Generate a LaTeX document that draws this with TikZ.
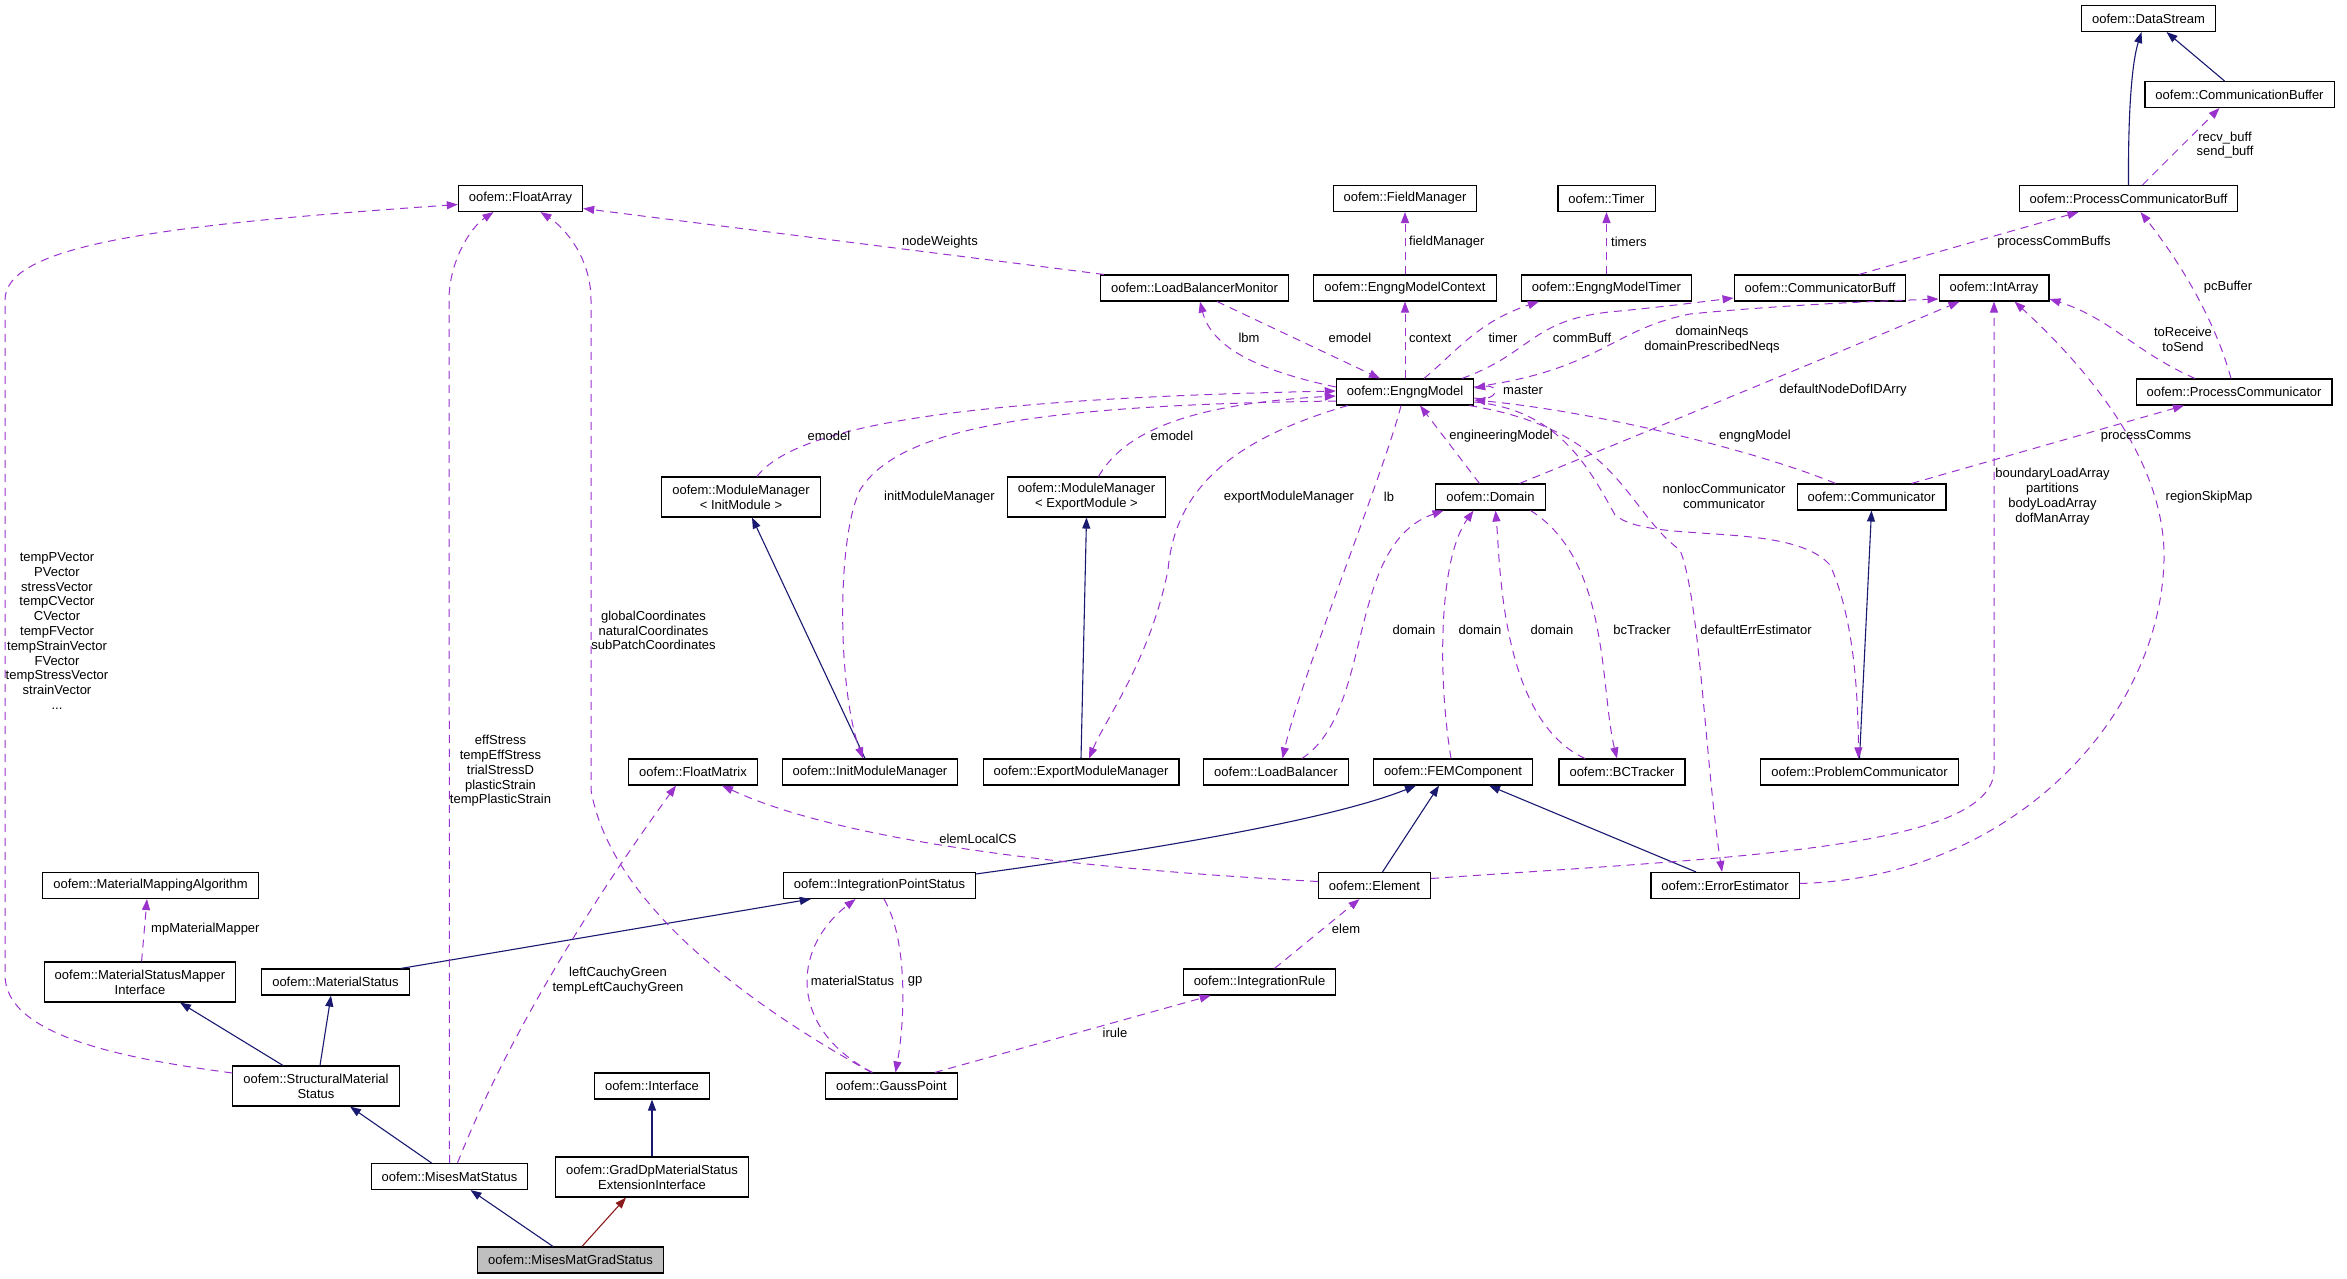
\documentclass[tikz,border=0pt]{standalone}
\usepackage{fontspec}
\setmainfont{Liberation Sans}
\usetikzlibrary{arrows.meta,calc}
\definecolor{usecol}{HTML}{9A32CD}
\definecolor{inhcol}{HTML}{191970}
\definecolor{tplcol}{HTML}{8B1A1A}
\definecolor{focuscol}{HTML}{BFBFBF}

\begin{document}
\begin{tikzpicture}[
    x=1pt, y=-1pt,
    cls/.style={
        rectangle, draw=black, line width=1.1pt, fill=white,
        inner xsep=10.5pt, inner ysep=5pt, minimum height=26pt,
        align=center, font=\fontsize{13}{14.8}\selectfont
    },
    twoline/.style={minimum height=40pt},
    focus/.style={cls, fill=focuscol},
    lbl/.style={inner sep=0pt, align=center, font=\fontsize{13}{14.8}\selectfont},
    use/.style={draw=usecol, line width=1pt, dash pattern=on 8pt off 6pt,
        -{Triangle[length=11pt,width=8pt]}},
    inh/.style={draw=inhcol, line width=1.1pt, -{Triangle[length=11pt,width=8pt]}},
    tpl/.style={draw=tplcol, line width=1.1pt, -{Triangle[length=11pt,width=8pt]}},
]
\useasboundingbox (0,0) rectangle (2347,1279);

% ── Classes ──────────────────────────────────────────────────
\node[cls] (floatArr)   at (520.5,198.5) {oofem::FloatArray};
\node[cls] (lbMon)      at (1194.5,288)  {oofem::LoadBalancerMonitor};
\node[cls] (fieldMgr)   at (1405,198.5)  {oofem::FieldManager};
\node[cls] (timerCls)   at (1606.5,198.5) {oofem::Timer};
\node[cls] (emCtx)      at (1405,288)    {oofem::EngngModelContext};
\node[cls] (emTimer)    at (1606.5,288)  {oofem::EngngModelTimer};
\node[cls] (commBuff)   at (1820,288)    {oofem::CommunicatorBuff};
\node[cls] (engng)      at (1405,392)    {oofem::EngngModel};
\node[cls] (dataStr)    at (2148.5,18.5) {oofem::DataStream};
\node[cls] (commBuffer) at (2239.5,94.5) {oofem::CommunicationBuffer};
\node[cls] (pcBuff)     at (2128.5,198.5) {oofem::ProcessCommunicatorBuff};
\node[cls] (intArr)     at (1994,288)    {oofem::IntArray};
\node[cls] (procComm)   at (2234,392)    {oofem::ProcessCommunicator};
\node[cls, twoline] (mmInit)   at (741,497)    {oofem::ModuleManager\\< InitModule >};
\node[cls, twoline] (mmExport) at (1086.5,497) {oofem::ModuleManager\\< ExportModule >};
\node[cls] (floatMat)   at (693,772)     {oofem::FloatMatrix};
\node[cls] (initMM)     at (870,772)     {oofem::InitModuleManager};
\node[cls] (exportMM)   at (1081,772)    {oofem::ExportModuleManager};
\node[cls] (domain)     at (1490.5,497)  {oofem::Domain};
\node[cls] (loadBal)    at (1276,772)    {oofem::LoadBalancer};
\node[cls] (femComp)    at (1453,772)    {oofem::FEMComponent};
\node[cls] (bcTrack)    at (1622,772)    {oofem::BCTracker};
\node[cls] (communic)   at (1871.5,497)  {oofem::Communicator};
\node[cls] (probComm)   at (1859.5,772)  {oofem::ProblemCommunicator};
\node[cls] (matMap)     at (150.5,885.5) {oofem::MaterialMappingAlgorithm};
\node[cls, twoline] (msmIface) at (140,982) {oofem::MaterialStatusMapper\\Interface};
\node[cls] (matStat)    at (335.5,982)   {oofem::MaterialStatus};
\node[cls, twoline] (structMS) at (316,1086) {oofem::StructuralMaterial\\Status};
\node[cls] (misesMS)    at (449.5,1176.5) {oofem::MisesMatStatus};
\node[focus] (misesGrad) at (570.5,1260) {oofem::MisesMatGradStatus};
\node[cls] (ipStat)     at (879.5,885.5) {oofem::IntegrationPointStatus};
\node[cls] (iface)      at (652,1086)    {oofem::Interface};
\node[cls, twoline] (gradIface) at (652,1177) {oofem::GradDpMaterialStatus\\ExtensionInterface};
\node[cls] (gaussPt)    at (891.5,1086)  {oofem::GaussPoint};
\node[cls] (element)    at (1374.5,885.5) {oofem::Element};
\node[cls] (intRule)    at (1259.5,982)  {oofem::IntegrationRule};
\node[cls] (errEst)     at (1725,885.5)  {oofem::ErrorEstimator};

% ── Inheritance ──────────────────────────────────────────────
\draw[inh] (pcBuff.north) .. controls (2128,110) and (2132,62) .. ($(dataStr.south)+(-7,0)$);
\draw[inh] ($(commBuffer.north)+(-15,0)$) -- ($(dataStr.south)+(18,0)$);
\draw[inh] (probComm.north) -- (communic.south);
\draw[inh] ($(initMM.north)+(-5,0)$) -- ($(mmInit.south)+(11,0)$);
\draw[inh] (exportMM.north) -- (mmExport.south);
\draw[inh] ($(matStat.north east)+(-9,0)$) -- ($(ipStat.south west)+(28,0)$);
\draw[inh] ($(ipStat.north east)+(0,2)$) .. controls (1150,850) and (1330,820) .. ($(femComp.south)+(-37,0)$);
\draw[inh] ($(element.north)+(8,0)$) -- ($(femComp.south)+(-14,0)$);
\draw[inh] ($(errEst.north)+(-29,0)$) -- ($(femComp.south)+(36,0)$);
\draw[inh] ($(structMS.north)+(-33,0)$) -- ($(msmIface.south)+(40,0)$);
\draw[inh] ($(structMS.north)+(4,0)$) -- ($(matStat.south)+(-4.5,0)$);
\draw[inh] ($(misesMS.north)+(-18,0)$) -- ($(structMS.south)+(34,0)$);
\draw[inh] ($(misesGrad.north)+(-17.5,0)$) -- ($(misesMS.south)+(21,0)$);
\draw[tpl] ($(misesGrad.north)+(11.5,0)$) -- ($(gradIface.south)+(-26,0)$);
\draw[inh] (gradIface.north) -- (iface.south);

% ── Usage: FloatArray / FloatMatrix ──────────────────────────
\draw[use] ($(structMS.west)+(0,-13)$) .. controls (120,1058) and (5,1035) .. (5,975)
    -- (5,300) .. controls (5,245) and (160,225) .. ($(floatArr.west)+(0,6)$);
\draw[use] (misesMS.north) -- (449,300) .. controls (449,262) and (470,228) .. ($(floatArr.south)+(-27,0)$);
\draw[use] ($(gaussPt.north)+(-20,0)$) .. controls (740,1000) and (610,900) .. (591,790)
    -- (591,300) .. controls (591,258) and (565,228) .. ($(floatArr.south)+(20,0)$);
\draw[use] ($(lbMon.north west)+(4,0)$) -- ($(floatArr.east)+(0,10)$);
\draw[use] ($(element.west)+(0,-4)$) .. controls (1100,870) and (850,845) .. ($(floatMat.south)+(29,0)$);
\draw[use] ($(misesMS.north)+(8,0)$) .. controls (510,1030) and (600,890) .. ($(floatMat.south)+(-17,0)$);

% ── Usage: EngngModel hub ────────────────────────────────────
\draw[use] (emCtx.north) -- (fieldMgr.south);
\draw[use] (emTimer.north) -- (timerCls.south);
\draw[use] ($(lbMon.south)+(22.5,0)$) -- ($(engng.north)+(-25,0)$);
\draw[use] ($(engng.west)+(0,-5)$) .. controls (1265,372) and (1212,350) .. ($(lbMon.south)+(5.5,0)$);
\draw[use] (engng.north) -- (emCtx.south);
\draw[use] ($(engng.north)+(19,0)$) .. controls (1458,350) and (1478,322) .. ($(emTimer.south west)+(18,0)$);
\draw[use] ($(engng.north)+(57,0)$) .. controls (1535,352) and (1530,318) .. (1620,311)
    .. controls (1670,306) and (1700,302) .. ($(commBuff.west)+(0,10)$);
\draw[use] ($(engng.east)+(0,-5)$) .. controls (1600,370) and (1610,330) .. (1690,314)
    .. controls (1780,305) and (1880,301) .. ($(intArr.west)+(0,11)$);
\draw[use] ($(engng.east)+(0,6)$) .. controls (1500,402) and (1500,384) .. ($(engng.east)+(0,-4)$);
\draw[use] ($(communic.north west)+(39,0)$) .. controls (1760,452) and (1600,412) .. ($(engng.east)+(0,8)$);
\draw[use] ($(engng.east)+(0,10)$) .. controls (1560,410) and (1590,470) .. (1615,515)
    .. controls (1650,545) and (1790,520) .. (1830,565)
    .. controls (1855,620) and (1858,700) .. ($(probComm.north)+(-1,0)$);
\draw[use] ($(engng.south east)+(-5,0)$) .. controls (1620,430) and (1625,510) .. (1680,550)
    .. controls (1700,600) and (1705,760) .. ($(errEst.north)+(-3,0)$);
\draw[use] ($(engng.south)+(-4,0)$) .. controls (1385,470) and (1300,680) .. ($(loadBal.north)+(6.5,0)$);
\draw[use] ($(mmInit.north)+(16,0)$) .. controls (800,420) and (1000,398) .. ($(engng.west)+(0,-1)$);
\draw[use] ($(engng.west)+(0,9)$) .. controls (1050,405) and (900,425) .. (860,490)
    .. controls (836,540) and (838,690) .. ($(initMM.north)+(-7,0)$);
\draw[use] ($(mmExport.north)+(12,0)$) .. controls (1120,440) and (1170,405) .. ($(engng.west)+(0,4)$);
\draw[use] ($(engng.south west)+(12,0)$) .. controls (1230,440) and (1175,490) .. (1168,570)
    .. controls (1150,660) and (1105,720) .. ($(exportMM.north)+(8,0)$);

% ── Usage: Domain ────────────────────────────────────────────
\draw[use] ($(domain.north)+(-11,0)$) -- ($(engng.south)+(15,0)$);
\draw[use] ($(domain.north)+(29,0)$) .. controls (1700,410) and (1880,335) .. ($(intArr.south west)+(21,0)$);
\draw[use] ($(loadBal.north)+(26,0)$) .. controls (1375,710) and (1345,545) .. ($(domain.south)+(-47,0)$);
\draw[use] ($(femComp.north)+(-2,0)$) .. controls (1438,680) and (1438,560) .. ($(domain.south)+(-17,0)$);
\draw[use] ($(bcTrack.north)+(-37,0)$) .. controls (1500,720) and (1500,560) .. ($(domain.south)+(5,0)$);
\draw[use] ($(domain.south)+(40,0)$) .. controls (1610,560) and (1600,690) .. ($(bcTrack.north)+(-5,0)$);

% ── Usage: IntArray / communication ──────────────────────────
\draw[use] ($(element.east)+(0,-7)$) .. controls (1720,858) and (1994,850) .. (1994,770) -- (intArr.south);
\draw[use] ($(errEst.east)+(0,-2)$) .. controls (2010,878) and (2160,720) .. (2164,560)
    .. controls (2166,470) and (2100,380) .. ($(intArr.south east)+(-35,0)$);
\draw[use] ($(communic.north)+(40,0)$) -- ($(procComm.south)+(-50,0)$);
\draw[use] ($(procComm.north)+(-39,0)$) .. controls (2135,352) and (2110,318) .. ($(intArr.east)+(0,11)$);
\draw[use] ($(procComm.north)+(-3,0)$) .. controls (2215,320) and (2180,262) .. ($(pcBuff.south)+(12,0)$);
\draw[use] ($(commBuff.north)+(39,0)$) -- ($(pcBuff.south)+(-50,0)$);
\draw[use] ($(pcBuff.north)+(14,0)$) -- ($(commBuffer.south)+(-20,0)$);

% ── Usage: integration ───────────────────────────────────────
\draw[use] ($(gaussPt.north)+(-19,0)$) .. controls (790,1030) and (790,950) .. ($(ipStat.south)+(-24,0)$);
\draw[use] ($(ipStat.south)+(4.5,0)$) .. controls (908,940) and (905,1020) .. ($(gaussPt.north)+(4,0)$);
\draw[use] ($(gaussPt.north east)+(-23,0)$) -- ($(intRule.south west)+(28,0)$);
\draw[use] ($(intRule.north)+(15,0)$) -- ($(element.south)+(-15,0)$);
\draw[use] ($(msmIface.north)+(1.6,0)$) -- ($(matMap.south)+(-3.5,0)$);

% ── Edge labels ──────────────────────────────────────────────
\node[lbl] (lPVec) at (57,631) {tempPVector\\PVector\\stressVector\\tempCVector\\CVector\\tempFVector\\tempStrainVector\\FVector\\tempStressVector\\strainVector\\...};
\node[lbl] (lEff) at (500.5,771) {effStress\\tempEffStress\\trialStressD\\plasticStrain\\tempPlasticStrain};
\node[lbl] (lCoord) at (653.5,630.5) {globalCoordinates\\naturalCoordinates\\subPatchCoordinates};
\node[lbl] (lNodeW) at (940,242) {nodeWeights};
\node[lbl, anchor=west] (lField) at (1409,242) {fieldManager};
\node[lbl, anchor=west] (lTimers) at (1611,242) {timers};
\node[lbl] (lLbm) at (1249,338) {lbm};
\node[lbl] (lEmodel) at (1350,338) {emodel};
\node[lbl, anchor=west] (lContext) at (1409,338) {context};
\node[lbl] (lTimer) at (1503,338) {timer};
\node[lbl] (lCommBuff) at (1582,338) {commBuff};
\node[lbl] (lNeqs) at (1712,339.5) {domainNeqs\\domainPrescribedNeqs};
\node[lbl, anchor=west] (lMaster) at (1503,390) {master};
\node[lbl] (lRecv) at (2225,145) {recv\_buff\\send\_buff};
\node[lbl] (lPcBuffs) at (2054,242) {processCommBuffs};
\node[lbl] (lPcBuffer) at (2228,287) {pcBuffer};
\node[lbl] (lToRecv) at (2183,339.5) {toReceive\\toSend};
\node[lbl] (lDofId) at (1843,390) {defaultNodeDofIDArry};
\node[lbl] (lEmodelA) at (829,436) {emodel};
\node[lbl] (lEmodelB) at (1172,436) {emodel};
\node[lbl] (lEngModel) at (1501,436) {engineeringModel};
\node[lbl] (lEngngModel) at (1755,436) {engngModel};
\node[lbl] (lProcComms) at (2146,436) {processComms};
\node[lbl] (lInitMM) at (939.5,497) {initModuleManager};
\node[lbl] (lExportMM) at (1289,497) {exportModuleManager};
\node[lbl] (lLb) at (1389,497) {lb};
\node[lbl] (lNonloc) at (1724,496) {nonlocCommunicator\\communicator};
\node[lbl] (lBoundary) at (2052.5,496.5) {boundaryLoadArray\\partitions\\bodyLoadArray\\dofManArray};
\node[lbl] (lRegion) at (2209,497) {regionSkipMap};
\node[lbl] (lDomainA) at (1414,630) {domain};
\node[lbl] (lDomainB) at (1480,630) {domain};
\node[lbl] (lDomainC) at (1552,630) {domain};
\node[lbl] (lBcTrack) at (1642,630) {bcTracker};
\node[lbl] (lErrEst) at (1756,630) {defaultErrEstimator};
\node[lbl] (lElemCS) at (978,839) {elemLocalCS};
\node[lbl, anchor=west] (lMapper) at (151,929) {mpMaterialMapper};
\node[lbl] (lCauchy) at (618,981) {leftCauchyGreen\\tempLeftCauchyGreen};
\node[lbl] (lMatStat) at (852.5,981) {materialStatus};
\node[lbl] (lGp) at (915,981) {gp};
\node[lbl] (lIrule) at (1115,1033) {irule};
\node[lbl] (lElem) at (1346,929) {elem};

\end{tikzpicture}
\end{document}
